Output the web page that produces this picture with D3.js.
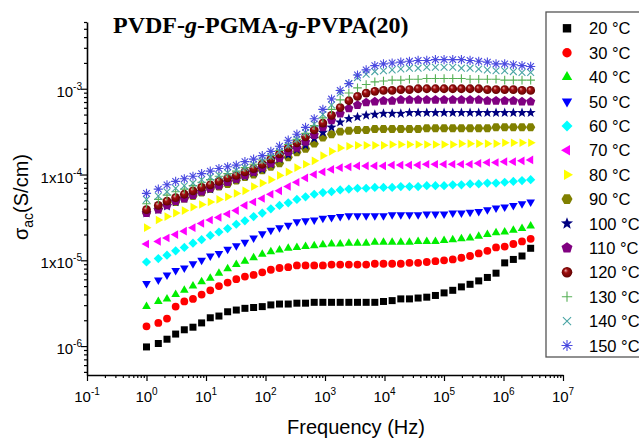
<!DOCTYPE html>
<html>
<head>
<meta charset="utf-8">
<title>PVDF-g-PGMA-g-PVPA(20)</title>
<script src="https://cdn.jsdelivr.net/npm/d3@7/dist/d3.min.js"></script>
<style>
    body { margin: 0; background: #fff; }
    svg { display: block; }
</style>
</head>
<body>
<svg id="chart"></svg>
<script>
const width = 639, height = 440

// measuring frequencies (Hz)
const freq = [1, 1.58, 2.21, 3.09, 4.32, 6.04, 8.44, 11.8, 16.5, 23.1, 32.3, 45.1, 63.1, 88.2, 123, 172, 241, 337, 471, 659,
    921, 1288, 1800, 2517, 3518, 4918, 6876, 9613, 13440, 18790, 26270, 36720, 51340, 71770, 100300, 140300, 196100, 274100,
    383200, 535800, 749000, 1047000, 1464000, 2047000, 2861000]

// log10 of sigma_ac (S/cm), one array per temperature
const logS20 = [-6.01, -5.97, -5.92, -5.86, -5.81, -5.78, -5.73, -5.67, -5.65, -5.60, -5.58, -5.56, -5.55, -5.54, -5.52, -5.51, -5.51, -5.50, -5.50, -5.49,
    -5.49, -5.49, -5.49, -5.49, -5.49, -5.49, -5.49, -5.48, -5.47, -5.45, -5.45, -5.44, -5.43, -5.41, -5.38, -5.35, -5.31, -5.28, -5.24, -5.20,
    -5.15, -5.03, -4.99, -4.95, -4.86]
const logS30 = [-5.77, -5.73, -5.68, -5.54, -5.48, -5.45, -5.40, -5.35, -5.30, -5.26, -5.22, -5.19, -5.17, -5.14, -5.11, -5.09, -5.08, -5.06, -5.06, -5.06,
    -5.06, -5.05, -5.05, -5.05, -5.05, -5.05, -5.04, -5.04, -5.04, -5.04, -5.03, -5.03, -5.02, -5.01, -5.00, -4.99, -4.97, -4.95, -4.92, -4.89,
    -4.85, -4.84, -4.81, -4.78, -4.75]
const logS40 = [-5.54, -5.48, -5.45, -5.40, -5.35, -5.30, -5.25, -5.21, -5.15, -5.10, -5.05, -5.01, -4.97, -4.93, -4.90, -4.88, -4.86, -4.85, -4.84, -4.83,
    -4.82, -4.81, -4.81, -4.80, -4.80, -4.80, -4.79, -4.79, -4.79, -4.79, -4.79, -4.78, -4.78, -4.78, -4.77, -4.76, -4.75, -4.74, -4.72, -4.70,
    -4.68, -4.67, -4.65, -4.63, -4.60]
const logS50 = [-5.27, -5.23, -5.17, -5.12, -5.09, -5.04, -5.00, -4.95, -4.92, -4.87, -4.83, -4.79, -4.74, -4.69, -4.65, -4.62, -4.59, -4.55, -4.54, -4.53,
    -4.51, -4.50, -4.49, -4.48, -4.48, -4.48, -4.48, -4.48, -4.47, -4.47, -4.47, -4.47, -4.46, -4.46, -4.46, -4.45, -4.45, -4.44, -4.43, -4.41,
    -4.39, -4.38, -4.36, -4.34, -4.32]
const logS60 = [-5.02, -4.98, -4.94, -4.89, -4.85, -4.80, -4.76, -4.71, -4.67, -4.63, -4.58, -4.54, -4.49, -4.45, -4.40, -4.36, -4.33, -4.29, -4.26, -4.23,
    -4.21, -4.20, -4.18, -4.17, -4.16, -4.16, -4.15, -4.15, -4.15, -4.14, -4.14, -4.14, -4.13, -4.13, -4.13, -4.12, -4.12, -4.11, -4.11, -4.10,
    -4.10, -4.09, -4.08, -4.07, -4.06]
const logS70 = [-4.81, -4.78, -4.74, -4.70, -4.66, -4.62, -4.57, -4.53, -4.50, -4.46, -4.42, -4.36, -4.32, -4.28, -4.23, -4.19, -4.14, -4.09, -4.04, -4.00,
    -3.97, -3.94, -3.92, -3.91, -3.90, -3.90, -3.90, -3.90, -3.89, -3.89, -3.89, -3.89, -3.88, -3.88, -3.88, -3.88, -3.88, -3.88, -3.87, -3.86,
    -3.86, -3.85, -3.85, -3.84, -3.83]
const logS80 = [-4.62, -4.53, -4.49, -4.45, -4.42, -4.38, -4.35, -4.32, -4.29, -4.26, -4.22, -4.19, -4.14, -4.10, -4.06, -4.01, -3.97, -3.92, -3.88, -3.84,
    -3.78, -3.73, -3.69, -3.67, -3.66, -3.66, -3.66, -3.66, -3.65, -3.65, -3.65, -3.65, -3.65, -3.65, -3.65, -3.65, -3.64, -3.64, -3.64, -3.64,
    -3.64, -3.63, -3.63, -3.63, -3.63]
const logS90 = [-4.45, -4.40, -4.35, -4.32, -4.28, -4.25, -4.21, -4.17, -4.14, -4.11, -4.07, -4.03, -4.00, -3.95, -3.91, -3.87, -3.80, -3.74, -3.70, -3.64,
    -3.57, -3.53, -3.50, -3.49, -3.48, -3.48, -3.47, -3.47, -3.47, -3.47, -3.47, -3.47, -3.46, -3.46, -3.46, -3.46, -3.46, -3.46, -3.46, -3.46,
    -3.45, -3.45, -3.45, -3.45, -3.45]
const logS100 = [-4.45, -4.41, -4.37, -4.32, -4.28, -4.24, -4.20, -4.17, -4.13, -4.09, -4.06, -4.02, -3.98, -3.94, -3.88, -3.82, -3.77, -3.71, -3.66, -3.58,
    -3.51, -3.45, -3.39, -3.35, -3.33, -3.31, -3.30, -3.29, -3.29, -3.29, -3.28, -3.28, -3.28, -3.28, -3.28, -3.28, -3.28, -3.28, -3.28, -3.28,
    -3.28, -3.28, -3.28, -3.28, -3.28]
const logS110 = [-4.45, -4.41, -4.36, -4.31, -4.28, -4.24, -4.20, -4.16, -4.13, -4.09, -4.05, -4.01, -3.97, -3.92, -3.87, -3.81, -3.74, -3.69, -3.62, -3.54,
    -3.45, -3.37, -3.29, -3.23, -3.19, -3.16, -3.15, -3.14, -3.14, -3.13, -3.13, -3.13, -3.13, -3.13, -3.13, -3.13, -3.13, -3.13, -3.13, -3.14,
    -3.14, -3.14, -3.14, -3.15, -3.15]
const logS120 = [-4.41, -4.36, -4.31, -4.27, -4.23, -4.19, -4.15, -4.12, -4.08, -4.04, -4.01, -3.97, -3.93, -3.88, -3.82, -3.76, -3.69, -3.63, -3.56, -3.48,
    -3.40, -3.31, -3.22, -3.14, -3.09, -3.05, -3.03, -3.02, -3.02, -3.01, -3.01, -3.00, -3.00, -3.00, -3.00, -3.00, -3.00, -3.00, -3.00, -3.01,
    -3.01, -3.01, -3.01, -3.02, -3.02]
const logS130 = [-4.34, -4.29, -4.24, -4.20, -4.17, -4.13, -4.09, -4.06, -4.02, -3.99, -3.96, -3.92, -3.88, -3.83, -3.78, -3.72, -3.65, -3.59, -3.52, -3.43,
    -3.34, -3.24, -3.13, -3.05, -2.99, -2.95, -2.92, -2.91, -2.90, -2.90, -2.89, -2.89, -2.88, -2.88, -2.88, -2.88, -2.88, -2.89, -2.89, -2.89,
    -2.89, -2.90, -2.90, -2.90, -2.90]
const logS140 = [-4.29, -4.25, -4.20, -4.16, -4.13, -4.10, -4.06, -4.03, -4.01, -3.98, -3.95, -3.92, -3.88, -3.84, -3.79, -3.73, -3.66, -3.59, -3.51, -3.41,
    -3.30, -3.19, -3.05, -2.94, -2.87, -2.83, -2.80, -2.79, -2.78, -2.77, -2.76, -2.76, -2.75, -2.75, -2.75, -2.75, -2.76, -2.76, -2.77, -2.78,
    -2.79, -2.79, -2.80, -2.81, -2.81]
const logS150 = [-4.22, -4.17, -4.12, -4.08, -4.05, -4.02, -3.99, -3.96, -3.93, -3.91, -3.89, -3.85, -3.82, -3.78, -3.73, -3.67, -3.60, -3.53, -3.45, -3.35,
    -3.24, -3.12, -3.02, -2.94, -2.84, -2.78, -2.73, -2.71, -2.70, -2.69, -2.68, -2.67, -2.67, -2.66, -2.66, -2.66, -2.66, -2.67, -2.68, -2.69,
    -2.71, -2.71, -2.72, -2.73, -2.74]

const temps = [20, 30, 40, 50, 60, 70, 80, 90, 100, 110, 120, 130, 140, 150]
const allLogS = [logS20, logS30, logS40, logS50, logS60, logS70, logS80, logS90, logS100, logS110, logS120, logS130, logS140, logS150]

const xTickExp = [-1, 0, 1, 2, 3, 4, 5, 6, 7]
const yTickExp = [-6, -5, -4, -3]
const yTickPrefix = ["", "1x", "1x", ""]

// marker look for each temperature (Origin default symbol cycle)
const markers = [
    { shape: "square", color: "#000000" },
    { shape: "circle", color: "#ff0000" },
    { shape: "up", color: "#00ee00" },
    { shape: "down", color: "#0000ff" },
    { shape: "diamond", color: "#00ffff" },
    { shape: "left", color: "#ff00ff" },
    { shape: "right", color: "#ffff00" },
    { shape: "hexagon", color: "#808000" },
    { shape: "star", color: "#000080" },
    { shape: "pentagon", color: "#800080" },
    { shape: "ball", color: "#800000" },
    { shape: "plus", color: "#55b055" },
    { shape: "cross", color: "#4aa5a5" },
    { shape: "asterisk", color: "#4a4ae0" }
]

const font = "'Liberation Sans', Arial, sans-serif"

const svg = d3.select("#chart")
    .attr("width", width)
    .attr("height", height)
    .style("font-family", font)

const defs = svg.append("defs")
const grad = defs.append("radialGradient")
    .attr("id", "ball")
    .attr("cx", "0.5").attr("cy", "0.5").attr("r", "0.55")
    .attr("fx", "0.35").attr("fy", "0.3")
grad.append("stop").attr("offset", "0").attr("stop-color", "#f0b0b0")
grad.append("stop").attr("offset", "0.35").attr("stop-color", "#a01010")
grad.append("stop").attr("offset", "1").attr("stop-color", "#5a0000")

var x = d3.scaleLog().domain([0.1, 1e7]).range([87, 563])
var y = d3.scaleLog().domain([4.6e-7, 6e-3]).range([375, 22])

function poly(n, r, rot) {
    let pts = d3.range(n).map(i => {
        let a = rot + i * 2 * Math.PI / n
        return [r * Math.cos(a), r * Math.sin(a)]
    })
    return "M" + pts.map(p => p[0].toFixed(2) + "," + p[1].toFixed(2)).join("L") + "Z"
}

function shapePath(shape, k) {
    const deg = Math.PI / 180
    switch (shape) {
        case "square": { let h = 3.5 * k; return `M${-h},${-h}H${h}V${h}H${-h}Z` }
        case "circle":
        case "ball": { let r = (shape == "ball" ? 4.4 : 3.9) * k; return `M${-r},0A${r},${r} 0 1,0 ${r},0A${r},${r} 0 1,0 ${-r},0Z` }
        case "up": return poly(3, 5 * k, -90 * deg)
        case "down": return poly(3, 5 * k, 90 * deg)
        case "left": return poly(3, 5 * k, 180 * deg)
        case "right": return poly(3, 5 * k, 0)
        case "diamond": return poly(4, 4.6 * k, -90 * deg)
        case "hexagon": return poly(6, 4.6 * k, 0)
        case "pentagon": return poly(5, 4.8 * k, -90 * deg)
        case "star": {
            let pts = d3.range(10).map(i => {
                let r = (i % 2 == 0 ? 5.3 : 2.2) * k, a = -90 * deg + i * 36 * deg
                return [r * Math.cos(a), r * Math.sin(a)]
            })
            return "M" + pts.map(p => p[0].toFixed(2) + "," + p[1].toFixed(2)).join("L") + "Z"
        }
        case "plus": { let h = 4.3 * k; return `M${-h},0H${h}M0,${-h}V${h}` }
        case "cross": { let h = 3.4 * k; return `M${-h},${-h}L${h},${h}M${-h},${h}L${h},${-h}` }
        case "asterisk": {
            let h = 4.6 * k, d = 3.3 * k
            return `M${-h},0H${h}M0,${-h}V${h}M${-d},${-d}L${d},${d}M${-d},${d}L${d},${-d}`
        }
    }
}

function drawMarker(sel, m, k) {
    let p = sel.append("path").attr("d", shapePath(m.shape, k))
    if (["plus", "cross", "asterisk"].includes(m.shape)) {
        p.attr("fill", "none").attr("stroke", m.color).attr("stroke-width", 1.1)
    } else if (m.shape == "ball") {
        p.attr("fill", "url(#ball)")
    } else {
        p.attr("fill", m.color)
    }
}

// data points
allLogS.forEach((logS, i) => {
    let pts = freq.map((f, j) => ({ f: f, s: Math.pow(10, logS[j]) }))
    svg.append("g")
        .selectAll("g")
        .data(pts)
        .enter()
        .append("g")
        .attr("transform", d => `translate(${x(d.f)},${y(d.s)})`)
        .each(function () { drawMarker(d3.select(this), markers[i], 1) })
})

// axes
let xMinor = [], yMinor = []
for (let e = -1; e < 7; e++) for (let m = 2; m < 10; m++) xMinor.push(m * Math.pow(10, e))
for (let e = -7; e < -2; e++) for (let m = 2; m < 10; m++) {
    let v = m * Math.pow(10, e)
    if (v >= 4.6e-7 && v <= 6.01e-3) yMinor.push(v)
}

function styleAxis(g) {
    g.selectAll("path").attr("stroke", "#000").attr("stroke-width", 1.6)
    g.selectAll("line").attr("stroke", "#000").attr("stroke-width", 1.2)
}

svg.append("g")
    .attr("transform", "translate(0,375)")
    .call(d3.axisBottom(x).tickValues(xMinor).tickSize(3).tickSizeOuter(0).tickFormat(""))
    .call(g => g.select(".domain").remove())
    .call(styleAxis)
svg.append("g")
    .attr("transform", "translate(0,375)")
    .call(d3.axisBottom(x).tickValues(xTickExp.map(e => Math.pow(10, e))).tickSize(6).tickSizeOuter(0).tickFormat(""))
    .call(styleAxis)

svg.append("g")
    .attr("transform", "translate(87,0)")
    .call(d3.axisLeft(y).tickValues(yMinor).tickSize(3).tickSizeOuter(0).tickFormat(""))
    .call(g => g.select(".domain").remove())
    .call(styleAxis)
svg.append("g")
    .attr("transform", "translate(87,0)")
    .call(d3.axisLeft(y).tickValues(yTickExp.map(e => Math.pow(10, e))).tickSize(6).tickSizeOuter(0).tickFormat(""))
    .call(styleAxis)

// tick labels with superscripts
svg.append("g")
    .selectAll("text")
    .data(xTickExp)
    .enter()
    .append("text")
    .attr("x", d => x(Math.pow(10, d)))
    .attr("y", 402)
    .attr("text-anchor", "middle")
    .attr("font-size", 15)
    .each(function (d) {
        let t = d3.select(this)
        t.append("tspan").text("10")
        t.append("tspan").attr("font-size", 10).attr("dy", -7).text(d)
    })

svg.append("g")
    .selectAll("text")
    .data(yTickExp)
    .enter()
    .append("text")
    .attr("x", 82)
    .attr("y", d => y(Math.pow(10, d)) + 8)
    .attr("text-anchor", "end")
    .attr("font-size", 15)
    .each(function (d, i) {
        let t = d3.select(this)
        t.append("tspan").text(yTickPrefix[i] + "10")
        t.append("tspan").attr("font-size", 10).attr("dy", -7).text(d)
    })

// axis titles
svg.append("text")
    .attr("x", 356)
    .attr("y", 434)
    .attr("text-anchor", "middle")
    .attr("font-size", 20)
    .text("Frequency (Hz)")

let yl = svg.append("text")
    .attr("transform", "translate(28,197) rotate(-90)")
    .attr("text-anchor", "middle")
    .attr("font-size", 20)
yl.append("tspan").text("\u03c3")
yl.append("tspan").attr("font-size", 14).attr("dy", 5).text("ac")
yl.append("tspan").attr("dy", -5).text("(S/cm)")

// title
let title = svg.append("text")
    .attr("x", 113)
    .attr("y", 33)
    .attr("font-family", "'Liberation Serif', 'Times New Roman', serif")
    .attr("font-weight", "bold")
    .attr("font-size", 24)
title.append("tspan").text("PVDF-")
title.append("tspan").attr("font-style", "italic").text("g")
title.append("tspan").text("-PGMA-")
title.append("tspan").attr("font-style", "italic").text("g")
title.append("tspan").text("-PVPA(20)")

// legend
let legend = svg.append("g")
legend.append("rect")
    .attr("x", 546).attr("y", 12)
    .attr("width", 110).attr("height", 345)
    .attr("fill", "#fff")
    .attr("stroke", "#555")
    .attr("stroke-width", 1.3)

let items = legend.selectAll("g.item")
    .data(temps)
    .enter()
    .append("g")
    .attr("class", "item")
    .attr("transform", (d, i) => `translate(567,${28.3 + i * 24.4})`)

items.each(function (d, i) { drawMarker(d3.select(this), markers[i], 1.2) })
items.append("text")
    .attr("x", 22)
    .attr("y", 6)
    .attr("font-size", 16.5)
    .text(d => d + " \u00b0C")
</script>
</body>
</html>
